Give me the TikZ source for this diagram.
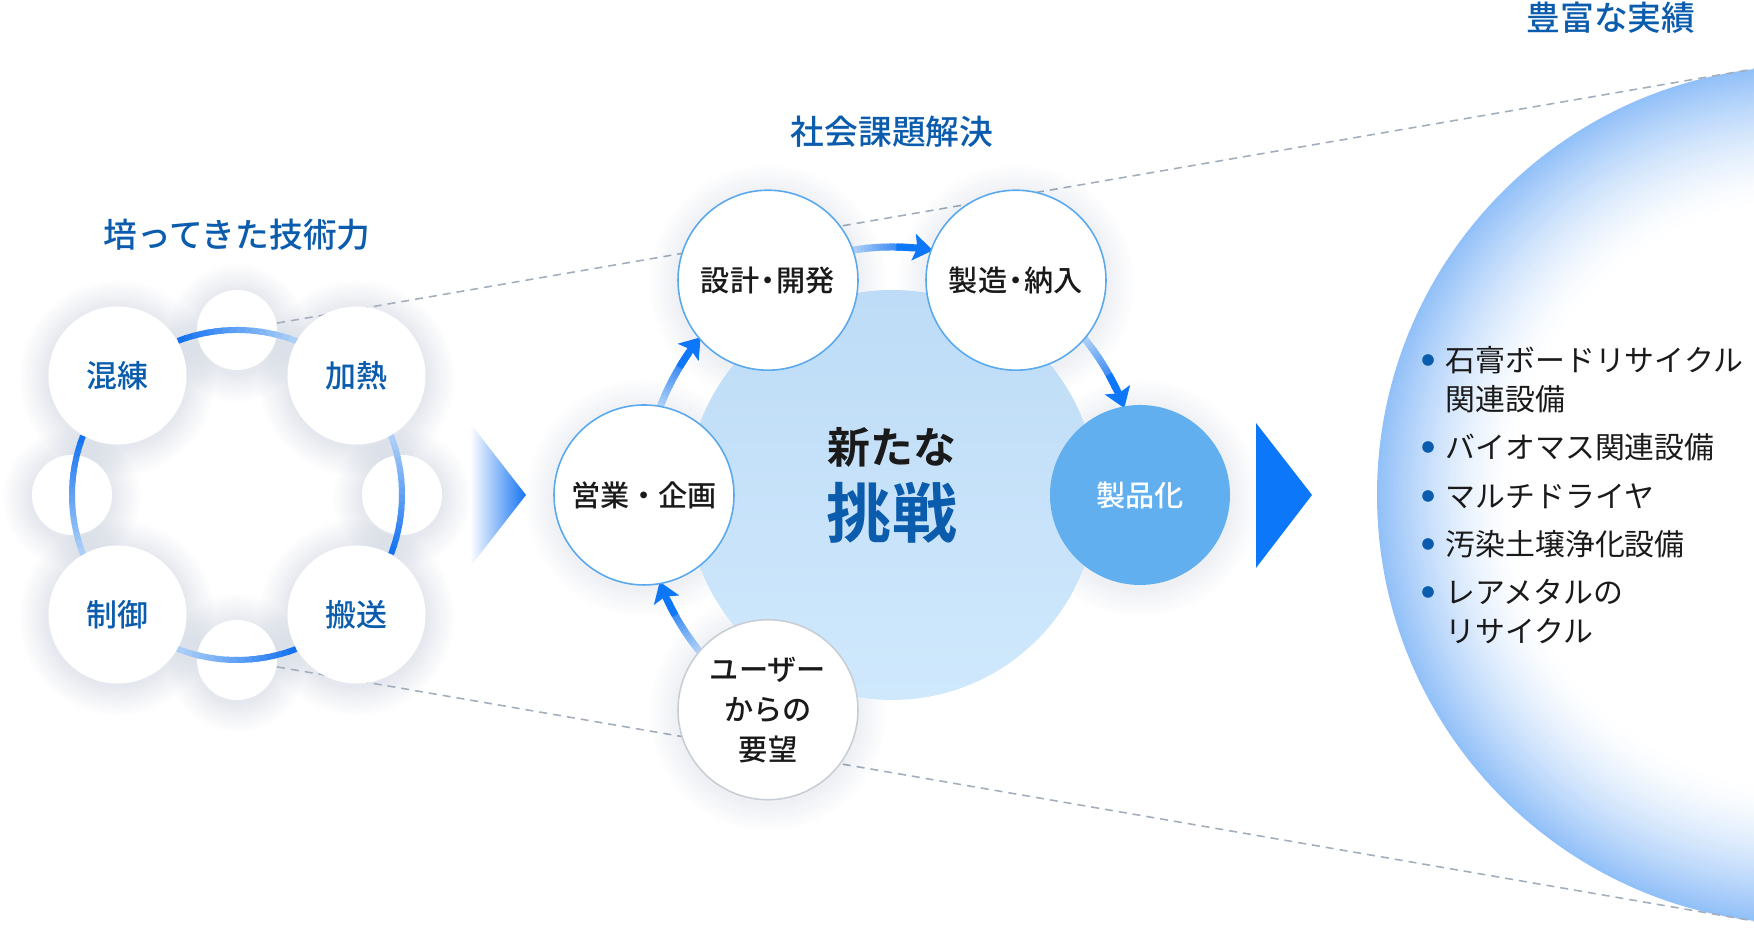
\documentclass[tikz,border=0pt]{standalone}
\usepackage{fontspec}
\setmainfont{Noto Sans CJK JP}[BoldFont={Noto Sans CJK JP Bold}]
\newfontfamily\jpmed{Noto Sans CJK JP Medium}
\usetikzlibrary{arrows.meta,positioning}

\definecolor{titleblue}{HTML}{0B5CAD}
\definecolor{ringdark}{HTML}{1573F2}
\definecolor{ringlight}{HTML}{AACEF7}
\definecolor{nodeline}{HTML}{5AA9EE}
\definecolor{usergray}{HTML}{C8CED6}
\definecolor{corefill}{HTML}{CFE8FC}
\definecolor{corefilltop}{HTML}{BEDCF7}
\definecolor{productfill}{HTML}{62AFF0}
\definecolor{arrowblue}{HTML}{0D77FA}
\definecolor{rimblue}{HTML}{92C0F8}
\definecolor{dashgray}{HTML}{A3AEBC}
\definecolor{haloc}{HTML}{4A5F8A}
\definecolor{textdark}{HTML}{1A1A1A}

% soft shadow: shift, centre, radius, strength
\newcommand{\halo}[4]{%
  \foreach \s in {1,...,12}
    \fill[haloc, opacity=#4] ([#1, yshift=-0.03cm]#2) circle ({#3+0.024*\s});
}
% arc that fades: centre, radius, dark angle, light angle, width
\newcommand{\gradarc}[5]{%
  \foreach \i in {0,...,15}{
    \pgfmathsetmacro\aa{(#3)+((#4)-(#3))*\i/16}
    \pgfmathsetmacro\bb{(#3)+((#4)-(#3))*(\i+1.3)/16}
    \pgfmathtruncatemacro\mix{100-100*\i/15}
    \draw[line width=#5, ringdark!\mix!ringlight] ([shift={(\aa:#2)}]#1) arc[start angle=\aa, end angle=\bb, radius=#2];
  }
}

\tikzset{
  skill/.style={circle, fill=white, minimum size=1.38cm, inner sep=0pt, text=titleblue, font=\jpmed\fontsize{8.8}{10}\selectfont},
  spot/.style={circle, fill=white, minimum size=0.80cm, inner sep=0pt},
  phase/.style={circle, fill=white, draw=nodeline, line width=0.45pt, minimum size=1.80cm, inner sep=0pt, text=textdark, font=\jpmed\fontsize{8.3}{11.4}\selectfont, align=center},
  heading/.style={text=titleblue, font=\jpmed\fontsize{9.6}{11}\selectfont},
  linkline/.style={dashgray, dash pattern=on 0.08cm off 0.06cm, line width=0.45pt},
  item/.style={anchor=west, inner sep=0pt, text=textdark, font=\fontsize{8.5}{11.1}\selectfont, align=left},
}

\begin{document}
\begin{tikzpicture}
\useasboundingbox (0,0) rectangle (17.54,9.28);
\clip (0,0) rectangle (17.54,9.28);

% rim on the right
\coordinate (R) at (18.06,4.33);
\foreach \k in {0,...,40}{
  \pgfmathsetmacro\rr{4.29-\k*0.034}
  \pgfmathtruncatemacro\pc{100*(1-\k/40)^1.5}
  \fill[rimblue!\pc!white] (R) circle (\rr);
}

\coordinate (L) at (2.37,4.33);
\coordinate (M) at (8.92,4.33);
\coordinate (uend) at (17.54,8.59);
\coordinate (lend) at (17.54,0.07);

% skill ring
\foreach \a in {45,135,225,315} \halo{shift={(\a:1.69)}}{L}{0.69}{0.013};
\foreach \a in {0,90,180,270} \halo{shift={(\a:1.65)}}{L}{0.40}{0.010};

\node[spot] (sptop) at ([shift={(90:1.65)}]L) {};
\node[spot] (spright) at ([shift={(0:1.65)}]L) {};
\node[spot] (spbot) at ([shift={(270:1.65)}]L) {};
\node[spot] (spleft) at ([shift={(180:1.65)}]L) {};

\draw[linkline] (sptop) -- (uend);
\draw[linkline] (spbot) -- (lend);

\foreach \da/\la in {111/69,-21/21,-69/-111,159/201} \gradarc{L}{1.65}{\da}{\la}{0.06cm};

\node[skill] (knead) at ([shift={(135:1.69)}]L) {混練};
\node[skill] (heat) at ([shift={(45:1.69)}]L) {加熱};
\node[skill] (control) at ([shift={(225:1.69)}]L) {制御};
\node[skill] (carry) at ([shift={(315:1.69)}]L) {搬送};

\shade[left color=white, right color=ringdark] (4.70,5.05) -- (5.26,4.33) -- (4.70,3.61) -- cycle;

% cycle in the middle
\foreach \a in {120,60,0,180,240} \halo{shift={(\a:2.48)}}{M}{0.90}{0.009};
\shade[top color=corefilltop, bottom color=corefill] (M) circle (2.05);
\node[font=\bfseries\fontsize{12.2}{14}\selectfont, text=textdark] (newtxt) at (8.92,4.81) {新たな};
\node[font=\bfseries\fontsize{18.5}{20}\selectfont, text=titleblue] (challenge) at (8.92,4.15) {挑戦};

\foreach \t in {219,159,99,39}{
  \gradarc{M}{2.48}{\t-14}{\t}{0.07cm}
  \draw[arrowblue, line width=0.07cm, -{Stealth[length=5.5pt, width=7.5pt, inset=1pt]}] ([shift={(\t-10:2.48)}]M) arc[start angle=\t-10, end angle=\t-18.5, radius=2.48];
}

\node[phase] (design) at ([shift={(120:2.48)}]M) {設計{\kern-0.2em}・{\kern-0.2em}開発};
\node[phase] (make) at ([shift={(60:2.48)}]M) {製造{\kern-0.2em}・{\kern-0.2em}納入};
\node[phase] (sales) at ([shift={(180:2.48)}]M) {営業・企画};
\node[phase, draw=usergray] (user) at ([shift={(240:2.48)}]M) {ユーザー\\からの\\要望};
\node[phase, draw=none, fill=productfill, text=white] (product) at ([shift={(0:2.48)}]M) {製品化};

\fill[arrowblue] (12.56,5.05) -- (13.12,4.33) -- (12.56,3.60) -- cycle;

% titles
\node[heading] (skilltitle) at (2.37,6.93) {培ってきた技術力};
\node[heading] (solvetitle) at (8.92,7.96) {社会課題解決};
\node[heading] (resulttitle) at (16.11,9.10) {豊富な実績};

% results
\foreach \y in {5.68,4.81,4.32,3.84,3.36} \fill[titleblue] (14.28,\y) circle (0.058);
\node[item] (res1) at (14.45,5.485) {石膏ボードリサイクル\\関連設備};
\node[item] (res2) at (14.45,4.81) {バイオマス関連設備};
\node[item] (res3) at (14.45,4.32) {マルチドライヤ};
\node[item] (res4) at (14.45,3.84) {汚染土壌浄化設備};
\node[item] (res5) at (14.45,3.165) {レアメタルの\\リサイクル};
\end{tikzpicture}
\end{document}
